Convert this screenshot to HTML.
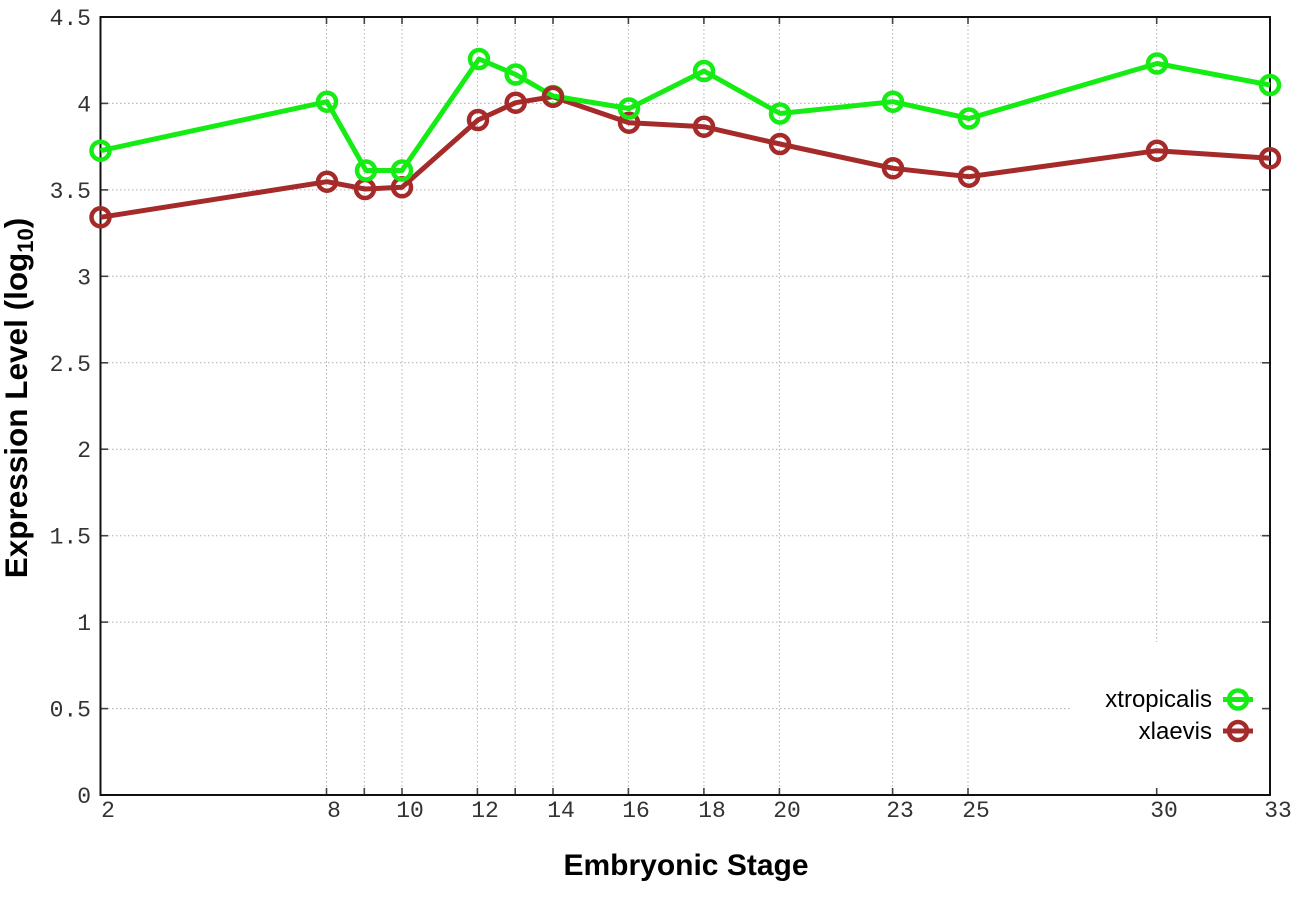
<!DOCTYPE html>
<html>
<head>
<meta charset="utf-8">
<style>
html,body{margin:0;padding:0;background:#fff;}
svg{display:block;}
.mono{font-family:"Liberation Mono","DejaVu Sans Mono",monospace;font-size:23px;fill:#333;}
.title{font-family:"Liberation Sans",Arial,sans-serif;font-weight:bold;font-size:30px;fill:#000;}
.ytitle{font-family:"Liberation Sans",Arial,sans-serif;font-weight:bold;font-size:31.5px;fill:#000;}
.leg{font-family:"Liberation Sans",Arial,sans-serif;font-size:24px;fill:#000;}
</style>
</head>
<body>
<svg width="1296" height="907" viewBox="0 0 1296 907" xmlns="http://www.w3.org/2000/svg">
<rect width="1296" height="907" fill="#fff"/>
<!-- horizontal grid -->
<g stroke="#b0b0b0" stroke-width="1" stroke-dasharray="1.5,2.5">
<line x1="100" y1="708.6" x2="1270" y2="708.6"/>
<line x1="100" y1="622.1" x2="1270" y2="622.1"/>
<line x1="100" y1="535.7" x2="1270" y2="535.7"/>
<line x1="100" y1="449.2" x2="1270" y2="449.2"/>
<line x1="100" y1="362.8" x2="1270" y2="362.8"/>
<line x1="100" y1="276.3" x2="1270" y2="276.3"/>
<line x1="100" y1="189.9" x2="1270" y2="189.9"/>
<line x1="100" y1="103.4" x2="1270" y2="103.4"/>
<!-- vertical grid -->
<line x1="326.5" y1="17" x2="326.5" y2="795"/>
<line x1="364.3" y1="17" x2="364.3" y2="795"/>
<line x1="402" y1="17" x2="402" y2="795"/>
<line x1="477.4" y1="17" x2="477.4" y2="795"/>
<line x1="515.2" y1="17" x2="515.2" y2="795"/>
<line x1="553" y1="17" x2="553" y2="795"/>
<line x1="628.4" y1="17" x2="628.4" y2="795"/>
<line x1="703.9" y1="17" x2="703.9" y2="795"/>
<line x1="779.4" y1="17" x2="779.4" y2="795"/>
<line x1="892.6" y1="17" x2="892.6" y2="795"/>
<line x1="968" y1="17" x2="968" y2="795"/>
<line x1="1156.7" y1="17" x2="1156.7" y2="795"/>
</g>
<!-- legend box (opaque) -->
<rect x="1072" y="642" width="197" height="152" fill="#fff"/>
<!-- ticks -->
<g stroke="#444" stroke-width="1.6">
<line x1="100" y1="708.6" x2="108" y2="708.6"/><line x1="1262" y1="708.6" x2="1270" y2="708.6"/>
<line x1="100" y1="622.1" x2="108" y2="622.1"/><line x1="1262" y1="622.1" x2="1270" y2="622.1"/>
<line x1="100" y1="535.7" x2="108" y2="535.7"/><line x1="1262" y1="535.7" x2="1270" y2="535.7"/>
<line x1="100" y1="449.2" x2="108" y2="449.2"/><line x1="1262" y1="449.2" x2="1270" y2="449.2"/>
<line x1="100" y1="362.8" x2="108" y2="362.8"/><line x1="1262" y1="362.8" x2="1270" y2="362.8"/>
<line x1="100" y1="276.3" x2="108" y2="276.3"/><line x1="1262" y1="276.3" x2="1270" y2="276.3"/>
<line x1="100" y1="189.9" x2="108" y2="189.9"/><line x1="1262" y1="189.9" x2="1270" y2="189.9"/>
<line x1="100" y1="103.4" x2="108" y2="103.4"/><line x1="1262" y1="103.4" x2="1270" y2="103.4"/>
<line x1="326.5" y1="795" x2="326.5" y2="788"/><line x1="326.5" y1="17" x2="326.5" y2="24"/>
<line x1="364.3" y1="795" x2="364.3" y2="788"/><line x1="364.3" y1="17" x2="364.3" y2="24"/>
<line x1="402" y1="795" x2="402" y2="788"/><line x1="402" y1="17" x2="402" y2="24"/>
<line x1="477.4" y1="795" x2="477.4" y2="788"/><line x1="477.4" y1="17" x2="477.4" y2="24"/>
<line x1="515.2" y1="795" x2="515.2" y2="788"/><line x1="515.2" y1="17" x2="515.2" y2="24"/>
<line x1="553" y1="795" x2="553" y2="788"/><line x1="553" y1="17" x2="553" y2="24"/>
<line x1="628.4" y1="795" x2="628.4" y2="788"/><line x1="628.4" y1="17" x2="628.4" y2="24"/>
<line x1="703.9" y1="795" x2="703.9" y2="788"/><line x1="703.9" y1="17" x2="703.9" y2="24"/>
<line x1="779.4" y1="795" x2="779.4" y2="788"/><line x1="779.4" y1="17" x2="779.4" y2="24"/>
<line x1="892.6" y1="795" x2="892.6" y2="788"/><line x1="892.6" y1="17" x2="892.6" y2="24"/>
<line x1="968" y1="795" x2="968" y2="788"/><line x1="968" y1="17" x2="968" y2="24"/>
<line x1="1156.7" y1="795" x2="1156.7" y2="788"/><line x1="1156.7" y1="17" x2="1156.7" y2="24"/>
</g>
<!-- border -->
<rect x="100.5" y="17" width="1169.5" height="778" fill="none" stroke="#111" stroke-width="2"/>
<!-- y tick labels -->
<g class="mono" text-anchor="end">
<text x="91" y="803">0</text>
<text x="91" y="716.6">0.5</text>
<text x="91" y="630.1">1</text>
<text x="91" y="543.7">1.5</text>
<text x="91" y="457.2">2</text>
<text x="91" y="370.8">2.5</text>
<text x="91" y="284.3">3</text>
<text x="91" y="197.9">3.5</text>
<text x="91" y="111.4">4</text>
<text x="91" y="25">4.5</text>
</g>
<!-- x tick labels -->
<g class="mono" text-anchor="middle">
<text x="108" y="817">2</text>
<text x="334" y="817">8</text>
<text x="410" y="817">10</text>
<text x="485" y="817">12</text>
<text x="561" y="817">14</text>
<text x="636" y="817">16</text>
<text x="712" y="817">18</text>
<text x="787" y="817">20</text>
<text x="900" y="817">23</text>
<text x="976" y="817">25</text>
<text x="1164" y="817">30</text>
<text x="1278" y="817">33</text>
</g>
<!-- series: xlaevis -->
<g stroke="#a52a2a" fill="none" stroke-linejoin="round">
<polyline stroke-width="5" points="100.5,217.3 327,181.7 365,189 402,187.3 478,120 515.7,102.7 553,96.7 629,122.7 704,126.7 780,144 893,168.3 969,176.7 1157,150.7 1270,158.3"/>
<g stroke-width="4.5">
<circle cx="100.5" cy="217.3" r="9"/><circle cx="327" cy="181.7" r="9"/><circle cx="365" cy="189" r="9"/>
<circle cx="402" cy="187.3" r="9"/><circle cx="478" cy="120" r="9"/><circle cx="515.7" cy="102.7" r="9"/>
<circle cx="553" cy="96.7" r="9"/><circle cx="629" cy="122.7" r="9"/><circle cx="704" cy="126.7" r="9"/>
<circle cx="780" cy="144" r="9"/><circle cx="893" cy="168.3" r="9"/><circle cx="969" cy="176.7" r="9"/>
<circle cx="1157" cy="150.7" r="9"/><circle cx="1270" cy="158.3" r="9"/>
</g>
</g>
<!-- series: xtropicalis -->
<g stroke="#14ec14" fill="none" stroke-linejoin="round">
<polyline stroke-width="5" points="100.5,150.7 327,101.7 366,170.5 402,170.5 479,59 515.7,74.5 553,96 629,108.5 704,71 780,113.5 893,101.7 969,118.5 1157,63.5 1270,85"/>
<g stroke-width="4.5">
<circle cx="100.5" cy="150.7" r="9"/><circle cx="327" cy="101.7" r="9"/><circle cx="366" cy="170.5" r="9"/>
<circle cx="402" cy="170.5" r="9"/><circle cx="479" cy="59" r="9"/><circle cx="515.7" cy="74.5" r="9"/>
<circle cx="553" cy="96" r="9"/><circle cx="629" cy="108.5" r="9"/><circle cx="704" cy="71" r="9"/>
<circle cx="780" cy="113.5" r="9"/><circle cx="893" cy="101.7" r="9"/><circle cx="969" cy="118.5" r="9"/>
<circle cx="1157" cy="63.5" r="9"/><circle cx="1270" cy="85" r="9"/>
</g>
</g>
<g stroke="#a52a2a" fill="none" stroke-width="4.5">
<circle cx="553" cy="96.7" r="9"/>
</g>
<!-- legend -->
<g class="leg" text-anchor="end">
<text x="1212" y="707">xtropicalis</text>
<text x="1212" y="739">xlaevis</text>
</g>
<g fill="none">
<line x1="1223" y1="699.5" x2="1253" y2="699.5" stroke="#14ec14" stroke-width="5"/>
<circle cx="1238" cy="699.5" r="9" stroke="#14ec14" stroke-width="4.5"/>
<line x1="1223" y1="731" x2="1253" y2="731" stroke="#a52a2a" stroke-width="5"/>
<circle cx="1238" cy="731" r="9" stroke="#a52a2a" stroke-width="4.5"/>
</g>
<!-- axis titles -->
<text class="title" x="686" y="875" text-anchor="middle">Embryonic Stage</text>
<text class="ytitle" transform="translate(27,398) rotate(-90)" text-anchor="middle">Expression Level (log<tspan font-size="22" dy="6">10</tspan><tspan dy="-6">)</tspan></text>
</svg>
</body>
</html>
